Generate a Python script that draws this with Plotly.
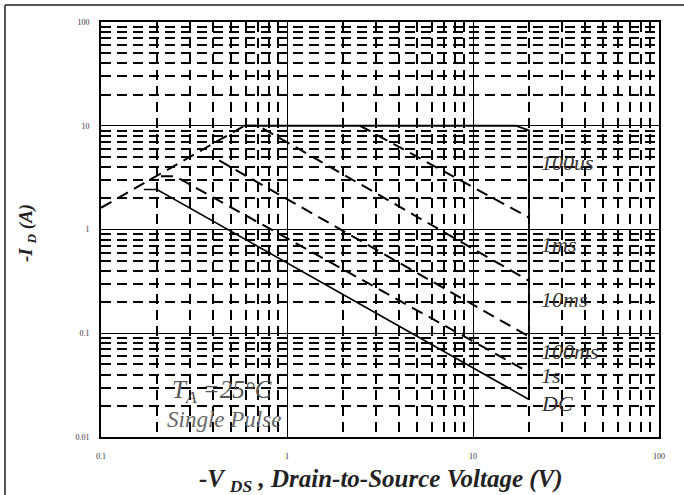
import math
import plotly.graph_objects as go

# ---- data ----
x_ticks = [0.1, 1, 10, 100]
x_ticktext = ["0.1", "1", "10", "100"]
y_ticks = [0.01, 0.1, 1, 10, 100]
y_ticktext = ["0.01", "0.1", "1", "10", "100"]

rds_vds = [0.1, 0.59]
rds_id = [1.62, 10.0]

us100_vds = [0.59, 17.0, 20.0, 20.0]
us100_id = [10.0, 10.0, 9.0, 0.023]

ms1_vds = [2.47, 20.0]
ms1_id = [10.0, 1.3]

ms10_vds = [0.59, 0.7, 20.0]
ms10_id = [10.0, 10.0, 0.32]

ms100_vds = [0.345, 0.4, 20.0]
ms100_id = [5.0, 5.0, 0.093]

s1_vds = [0.21, 0.25, 20.0]
s1_id = [3.26, 3.26, 0.042]

dc_vds = [0.17, 0.2, 20.0]
dc_id = [2.43, 2.43, 0.023]

labels = ["100us", "1ms", "10ms", "100ms", "1s", "DC"]
label_vds = [22.5, 22.5, 22.5, 22.5, 22.5, 22.5]
label_id = [4.4, 0.72, 0.21, 0.067, 0.039, 0.021]

minor_x = [m * d for d in (0.1, 1, 10) for m in range(2, 10)]
minor_y = [m * d for d in (0.01, 0.1, 1, 10) for m in range(2, 10)]

# plot-area geometry (pixels) used for paper-coordinate placement
L, R, T, B = 101, 659, 22, 437
W, H = 684, 495


def px(xp):
    return (xp - L) / (R - L)


def py(yp):
    return (B - yp) / (B - T)


fig = go.Figure()

dash_style = dict(color="black", width=2, dash="12px,7px")
for xs, ys in [(rds_vds, rds_id), (ms1_vds, ms1_id), (ms10_vds, ms10_id),
               (ms100_vds, ms100_id), (s1_vds, s1_id)]:
    fig.add_trace(go.Scatter(x=xs, y=ys, mode="lines", line=dash_style,
                             showlegend=False, hoverinfo="skip"))
fig.add_trace(go.Scatter(x=us100_vds, y=us100_id, mode="lines",
                         line=dict(color="black", width=1.8), showlegend=False))
fig.add_trace(go.Scatter(x=dc_vds, y=dc_id, mode="lines",
                         line=dict(color="black", width=1.6), showlegend=False))

serif = "Liberation Serif"
for t, xv, yv in zip(labels, label_vds, label_id):
    fig.add_annotation(x=math.log10(xv), y=math.log10(yv), xref="x", yref="y",
                       text="<i>" + t + "</i>",
                       showarrow=False, xanchor="left", yanchor="middle",
                       font=dict(family=serif, size=22, color="#333333"))

fig.add_annotation(x=math.log10(0.447), y=math.log10(0.0277), xref="x", yref="y",
                   text="<i>T<sub>A</sub> =25°C</i>", showarrow=False,
                   font=dict(family=serif, size=25, color="#555555"))
fig.add_annotation(x=math.log10(0.458), y=math.log10(0.0149), xref="x", yref="y",
                   text="<i>Single Pulse</i>", showarrow=False,
                   font=dict(family=serif, size=23, color="#666666"))

# axis titles
fig.add_annotation(x=px(381), y=py(480), xref="paper", yref="paper",
                   text="<i><b>-V <sub>DS</sub> , Drain-to-Source Voltage (V)</b></i>",
                   showarrow=False, xanchor="center", yanchor="middle",
                   font=dict(family=serif, size=25, color="#222222"))
fig.add_annotation(x=px(27), y=py(233), xref="paper", yref="paper",
                   text="<i><b>-I <sub>D</sub> (A)</b></i>", textangle=-90,
                   showarrow=False, xanchor="center", yanchor="middle",
                   font=dict(family=serif, size=19, color="#222222"))

axis_common = dict(
    type="log", automargin=False,
    showline=True, linecolor="black", linewidth=2, mirror=True,
    showgrid=True, gridcolor="black", gridwidth=1.3,
    ticks="", zeroline=False,
    tickfont=dict(family=serif, size=8, color="#333333"),
)

fig.update_xaxes(**axis_common, range=[-1, 2], tickvals=x_ticks, ticktext=x_ticktext,
                 ticklabelstandoff=10,
                 minor=dict(tickvals=minor_x, showgrid=True, gridcolor="black",
                            griddash="10px,6px", gridwidth=1.5, ticks=""))
fig.update_yaxes(**axis_common, range=[-2, 2], tickvals=y_ticks, ticktext=y_ticktext,
                 ticklabelstandoff=8,
                 minor=dict(tickvals=minor_y, showgrid=True, gridcolor="black",
                            griddash="10px,6px", gridwidth=1.5, ticks=""))

fig.add_shape(type="line", xref="paper", yref="paper", x0=px(5), x1=px(700),
              y0=py(5), y1=py(5), line=dict(color="#555555", width=2))
fig.add_shape(type="line", xref="paper", yref="paper", x0=px(5), x1=px(5),
              y0=py(500), y1=py(5), line=dict(color="#555555", width=2))

fig.update_layout(
    width=W, height=H,
    margin=dict(l=L, r=W - R, t=T, b=H - B, autoexpand=False),
    plot_bgcolor="white", paper_bgcolor="white",
    showlegend=False,
)

fig.write_html("out.html",
               config={"displayModeBar": False},
               post_script="document.body.style.margin='0px';"
                           "document.body.style.overflow='hidden';")
